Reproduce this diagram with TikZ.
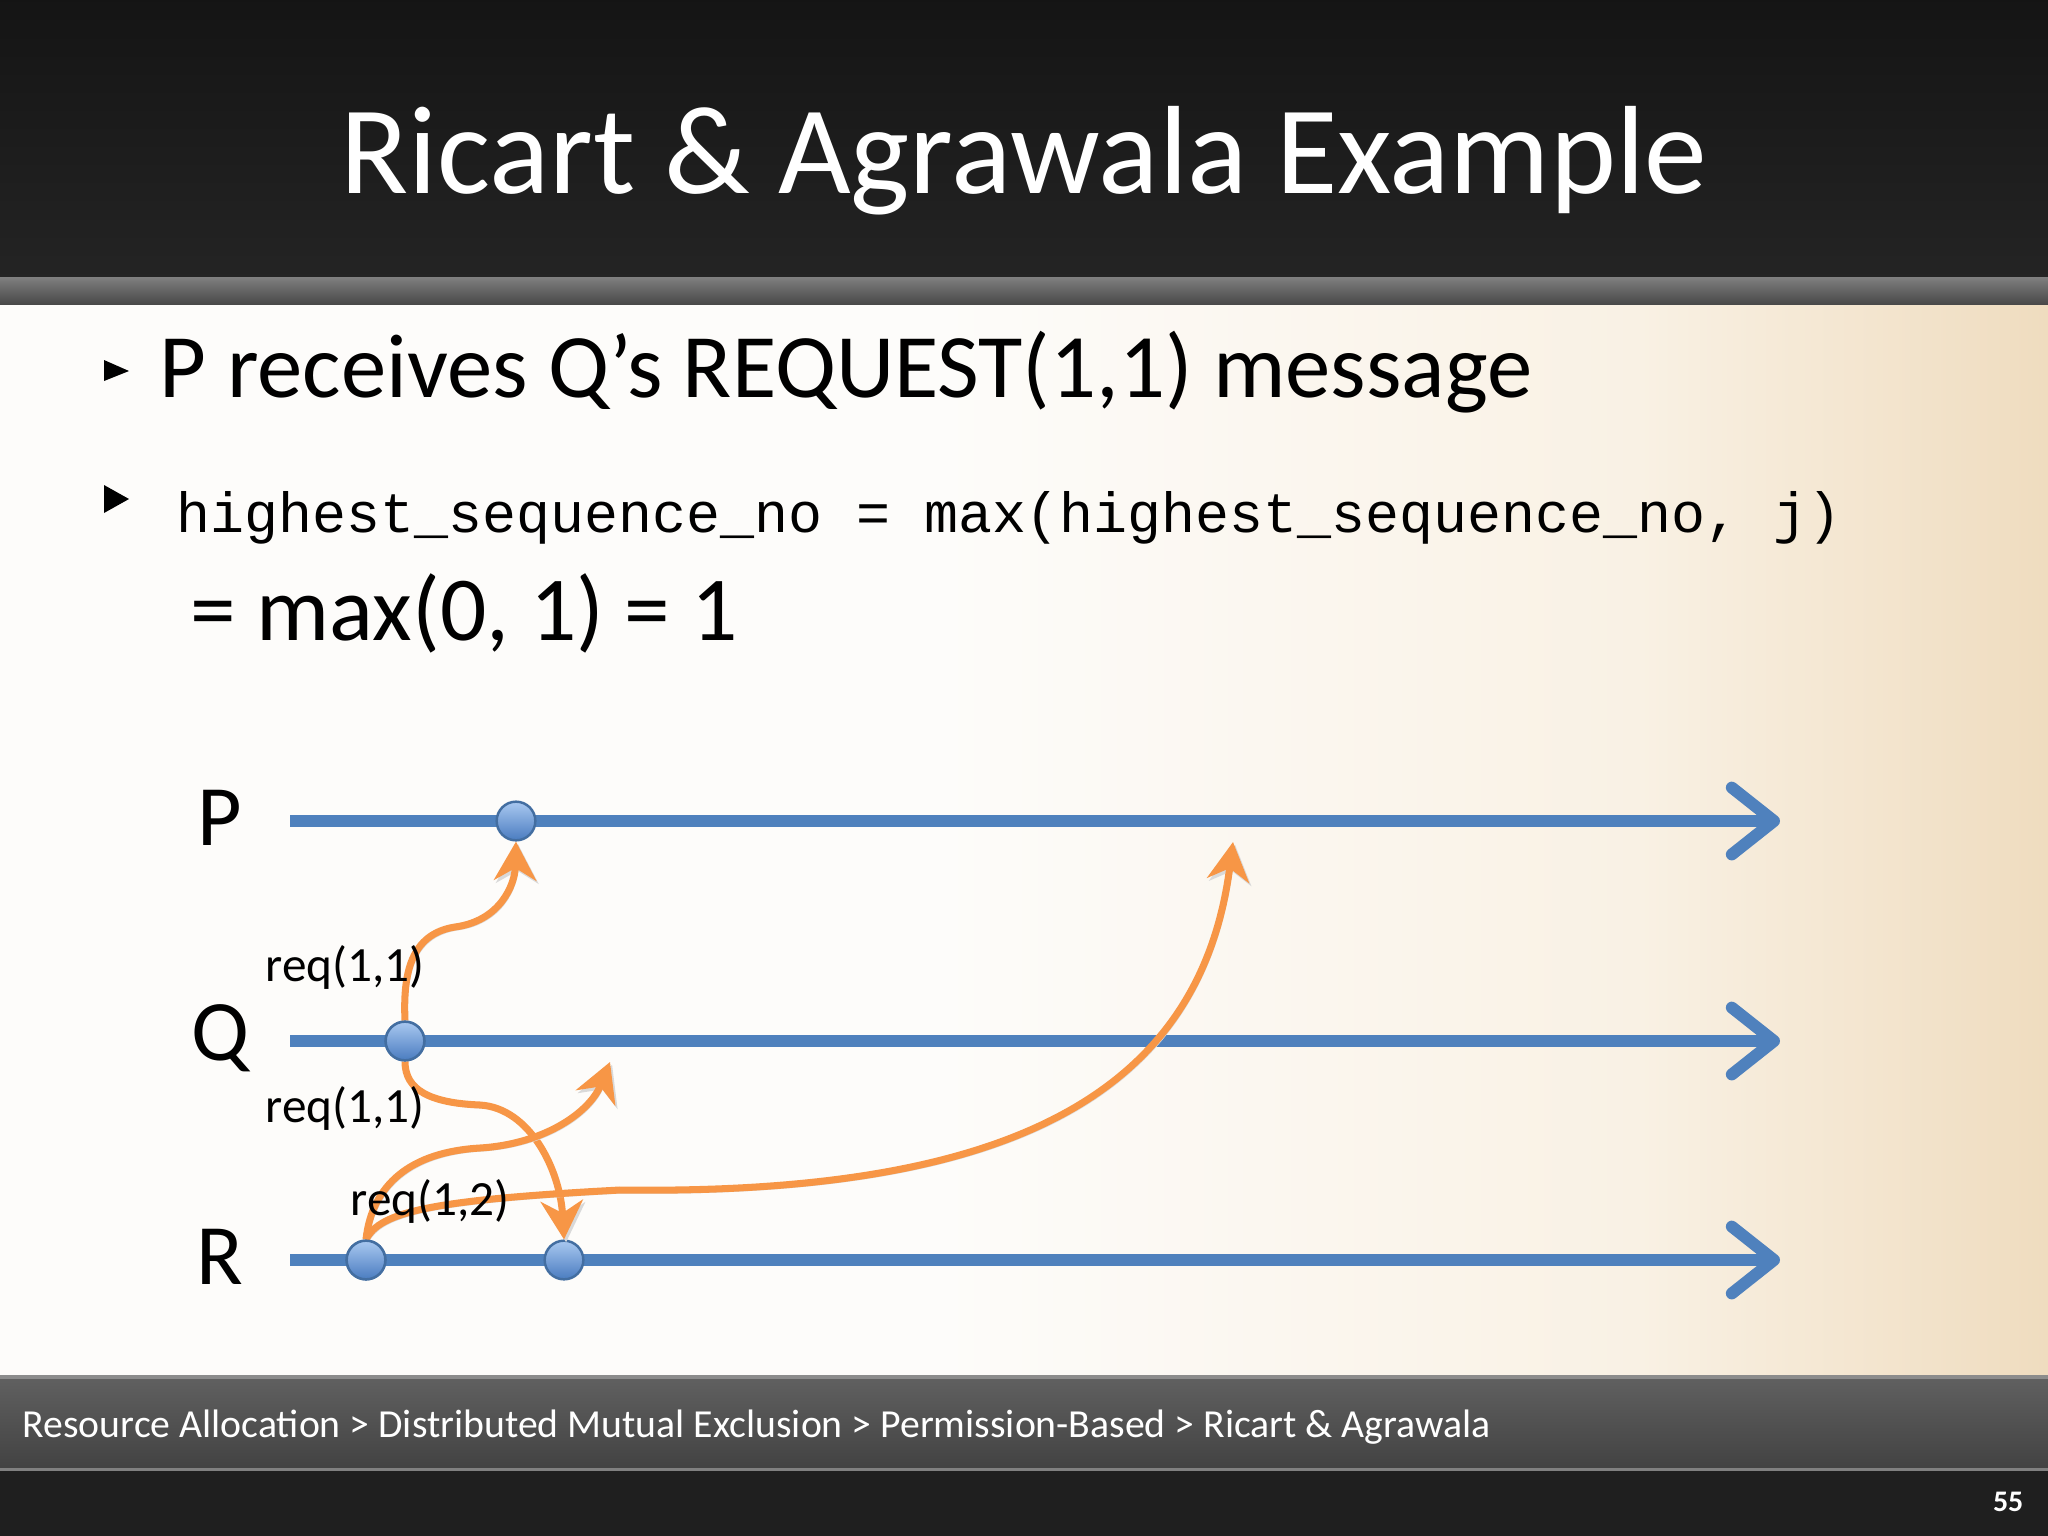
\documentclass[tikz,border=0pt]{standalone}
\usepackage{fontspec}
\setmainfont{Carlito}
\setmonofont{Liberation Mono}
\usetikzlibrary{arrows.meta}
\definecolor{TimeBlue}{HTML}{4F81BD}
\definecolor{MsgOrange}{HTML}{F79646}
\definecolor{EventTop}{HTML}{A9C8F0}
\definecolor{EventBottom}{HTML}{4A7CC0}
\definecolor{BodyLeft}{HTML}{FDFCFA}
\definecolor{BodyMid}{HTML}{F9F1E4}
\definecolor{BodyRight}{HTML}{EFDCBF}
\pgfdeclarehorizontalshading{bodyshade}{100bp}{color(0bp)=(BodyLeft); color(25bp)=(BodyLeft); color(48bp)=(BodyLeft); color(65bp)=(BodyMid); color(75bp)=(BodyRight); color(100bp)=(BodyRight)}

\begin{document}
\begin{tikzpicture}[x=0.01cm, y=-0.01cm,
    timeline/.style={draw=TimeBlue, line width=3.4pt, -{Straight Barb[length=12pt,width=19pt,round]},
      preaction={draw=black!25, transform canvas={yshift=-1.3pt}}},
    msg/.style={draw=MsgOrange, line width=2pt, -{Stealth[length=11pt,width=12pt,inset=3.5pt]},
      preaction={draw=black!15, transform canvas={xshift=0.6pt,yshift=-0.8pt}}},
    event/.style={circle, minimum size=11pt, inner sep=0pt, top color=EventTop, bottom color=EventBottom,
      draw=TimeBlue!85!black, line width=0.7pt},
    proc/.style={font=\fontsize{24.5}{28}\selectfont, inner sep=0pt},
    reqlabel/.style={font=\fontsize{14}{16}\selectfont, inner sep=0pt},
    bodytext/.style={anchor=base west, inner sep=0pt, font=\fontsize{25.8}{30}\selectfont}]
    \useasboundingbox (0,0) rectangle (2048,1536);

    % slide background
    \shade[top color=black!92, bottom color=black!86] (0,0) rectangle (2048,277);
    \shade[top color=black!50, bottom color=black!72] (0,277) rectangle (2048,305);
    \shade[shading=bodyshade] (0,305) rectangle (2048,1375);
    \shade[top color=black!62, bottom color=black!74] (0,1375) rectangle (2048,1468);
    \fill[black!45] (0,1375) rectangle (2048,1379);
    \fill[black!88] (0,1468) rectangle (2048,1536);
    \fill[black!50] (0,1468) rectangle (2048,1471);

    % title and bullets
    \node[anchor=base, inner sep=0pt, text=white, font=\fontsize{35.7}{40}\selectfont] (title) at (1024,193) {Ricart \& Agrawala Example};
    \fill (104,360) -- (129,371) -- (104,381) -- cycle;
    \node[bodytext] (receive) at (159,397) {P receives Q’s REQUEST(1,1) message};
    \fill (104,485) -- (129,499) -- (104,513) -- cycle;
    \node[bodytext, font=\fontsize{16.1}{20}\ttfamily] (update) at (176,532) {highest\_sequence\_no = max(highest\_sequence\_no, j)};
    \node[bodytext, font=\fontsize{26}{30}\selectfont] (result) at (190,640) {= max(0, 1) = 1};

    % processes
    \node[proc] (P) at (220,818) {P};
    \node[proc] (Q) at (220,1038) {Q};
    \node[proc] (R) at (220,1257) {R};
    \coordinate (P0) at (290,821);
    \coordinate (P1) at (1780,821);
    \coordinate (Q0) at (290,1041);
    \coordinate (Q1) at (1780,1041);
    \coordinate (R0) at (290,1260);
    \coordinate (R1) at (1780,1260);
    \draw[timeline] (P0) -- (P1);
    \draw[timeline] (Q0) -- (Q1);
    \draw[timeline] (R0) -- (R1);

    % events
    \node[event] (pRecv) at (516,821) {};
    \node[event] (qReq) at (405,1041) {};
    \node[event] (rReq) at (366,1260) {};
    \node[event] (rRecv) at (564,1260) {};
    \coordinate (rMid) at (610,1062);
    \coordinate (pHit) at (1233,842);

    % request messages
    \draw[msg] (qReq.north) .. controls (403,975) and (410,934) .. (455,927)
        .. controls (500,921) and (515,885) .. (pRecv.south);
    \draw[msg] (qReq.south) .. controls (405,1090) and (430,1103) .. (480,1105)
        .. controls (530,1108) and (560,1170) .. (rRecv.north);
    \draw[msg] (rReq.north) .. controls (372,1185) and (410,1152) .. (480,1148)
        .. controls (545,1144) and (590,1112) .. (rMid);
    \draw[msg] (rReq.north) .. controls (380,1212) and (430,1200) .. (620,1190)
        .. controls (1000,1195) and (1200,1100) .. (pHit);
    \node[event] at (qReq) {};
    \node[event] at (rReq) {};

    \node[reqlabel] (reqQP) at (345,967) {req(1,1)};
    \node[reqlabel] (reqQR) at (345,1108) {req(1,1)};
    \node[reqlabel] (reqR) at (430,1201) {req(1,2)};

    % footer
    \node[anchor=base west, inner sep=0pt, text=white, font=\fontsize{11.3}{14}\selectfont] (path) at (22,1437)
        {Resource Allocation > Distributed Mutual Exclusion > Permission-Based > Ricart \& Agrawala};
    \node[anchor=base east, inner sep=0pt, text=white, font=\fontsize{8.5}{10}\bfseries] (page) at (2024,1511) {55};
\end{tikzpicture}
\end{document}
